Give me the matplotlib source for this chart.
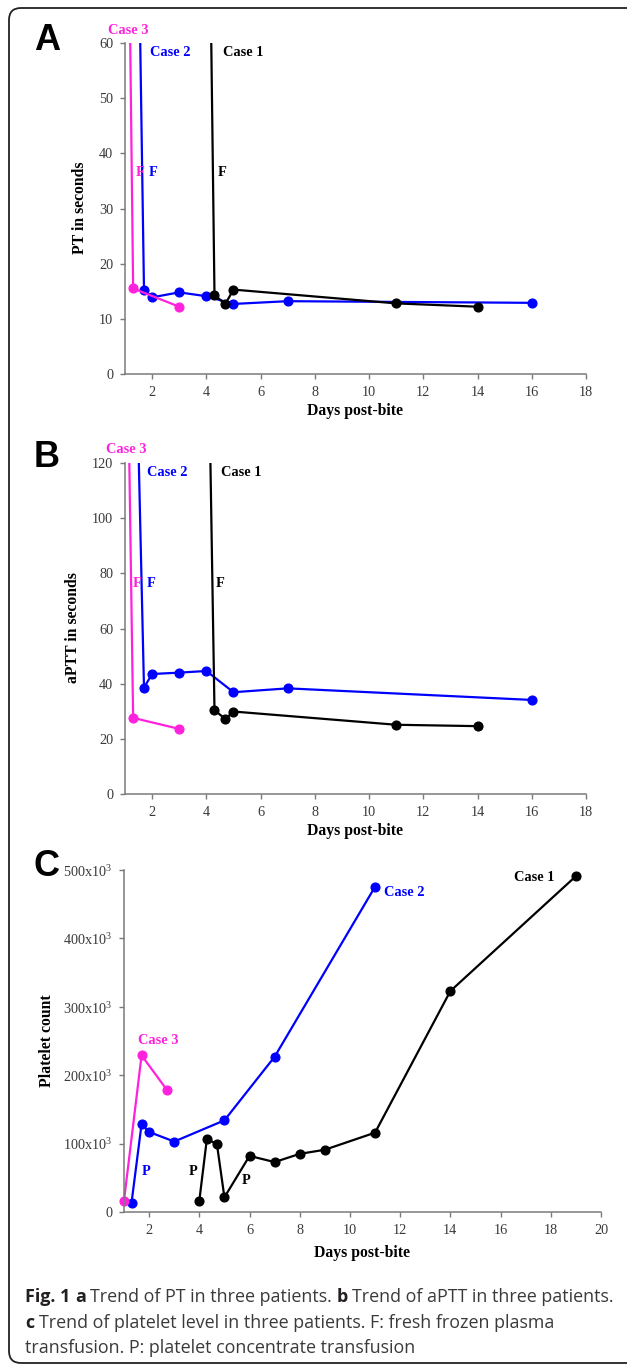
import numpy as np
import matplotlib
matplotlib.use("Agg")
import matplotlib.pyplot as plt
from matplotlib.patches import FancyBboxPatch
from matplotlib.transforms import IdentityTransform

plt.rcParams['font.family'] = 'Liberation Serif'
plt.rcParams['mathtext.fontset'] = 'custom'
plt.rcParams['mathtext.rm'] = 'Liberation Serif'

MAGENTA = '#ff22dd'
BLUE = '#0000ff'
BLACK = '#000000'
GRAY = '#7a7a7a'
W, H = 627, 1366

# A: PT in seconds (first point is off-scale, unclottable)
pt_case1_days = [4.0, 4.3, 4.7, 5.0, 11, 14]
pt_case1 = [130, 14.3, 12.7, 15.3, 12.8, 12.2]
pt_case2_days = [1.3, 1.7, 2, 3, 4, 5, 7, 16]
pt_case2 = [145, 15.3, 13.9, 14.8, 14.1, 12.7, 13.2, 12.9]
pt_case3_days = [1.0, 1.3, 3.0]
pt_case3 = [140, 15.5, 12.2]

# B: aPTT in seconds
aptt_case1_days = [4.0, 4.3, 4.7, 5.0, 11, 14]
aptt_case1 = [210, 30.4, 27.2, 29.9, 25.1, 24.6]
aptt_case2_days = [1.3, 1.7, 2, 3, 4, 5, 7, 16]
aptt_case2 = [210, 38.6, 43.5, 44.0, 44.6, 36.9, 38.3, 34.1]
aptt_case3_days = [1.0, 1.3, 3.0]
aptt_case3 = [225, 27.6, 23.6]

# C: platelet count
plt_case1_days = [4, 4.3, 4.7, 5, 6, 7, 8, 9, 11, 14, 19]
plt_case1 = [16500, 106500, 99500, 21500, 82000, 73000, 85000, 91000, 116000, 323000, 491000]
plt_case2_days = [1.3, 1.7, 2, 3, 5, 7, 11]
plt_case2 = [13500, 128500, 117000, 103000, 134000, 227000, 475500]
plt_case3_days = [1.0, 1.7, 2.7]
plt_case3 = [16500, 229000, 179000]

plt_ticks = [0, 100000, 200000, 300000, 400000, 500000]
plt_ticklabels = ['0'] + ['%dx10$^{\\mathrm{3}}$' % (v // 1000) for v in plt_ticks[1:]]


def px_axes(fig, left, top, right, bottom):
    return fig.add_axes([left / W, 1 - bottom / H, (right - left) / W, (bottom - top) / H])


def style_axes(ax):
    for s in ['top', 'right']:
        ax.spines[s].set_visible(False)
    for s in ['left', 'bottom']:
        ax.spines[s].set_color(GRAY)
        ax.spines[s].set_linewidth(1.1)
    ax.tick_params(direction='out', length=3.5, width=1, color=GRAY,
                   labelsize=10.3, labelcolor='#3a3a3a', pad=5)


def series(ax, x, y, color, clip=True):
    ax.plot(x, y, '-', color=color, lw=1.6, marker='o', ms=6.3,
            markevery=list(range(1, len(x))) if clip else None, clip_on=clip)


fig = plt.figure(figsize=(W / 100, H / 100), dpi=100)

# border frame
frame = FancyBboxPatch((0.09, 0.03), 7.0, 13.55, boxstyle='round,pad=0,rounding_size=0.12',
                       transform=fig.dpi_scale_trans, fill=False, ec='#222222', lw=1.3)
fig.patches.append(frame)

case_font = dict(fontsize=10.4, fontweight='bold', clip_on=False)

# ---- panel A
ax = px_axes(fig, 125, 43, 586, 374)
series(ax, pt_case2_days, pt_case2, BLUE)
series(ax, pt_case1_days, pt_case1, BLACK)
series(ax, pt_case3_days, pt_case3, MAGENTA)
ax.set_xlim(1, 18)
ax.set_ylim(0, 60)
ax.set_xticks(np.arange(2, 19, 2))
ax.set_yticks(np.arange(0, 61, 10))
style_axes(ax)
ax.text(1.11, 62.2, 'Case 3', color=MAGENTA, ha='center', va='center', **case_font)
ax.text(2.66, 58.2, 'Case 2', color=BLUE, ha='center', va='center', **case_font)
ax.text(5.35, 58.2, 'Case 1', color=BLACK, ha='center', va='center', **case_font)
ax.text(1.55, 36.5, 'F', color=MAGENTA, ha='center', va='center', **case_font)
ax.text(2.04, 36.5, 'F', color=BLUE, ha='center', va='center', **case_font)
ax.text(4.6, 36.5, 'F', color=BLACK, ha='center', va='center', **case_font)

# ---- panel B
ax = px_axes(fig, 125, 463, 586, 794)
series(ax, aptt_case2_days, aptt_case2, BLUE)
series(ax, aptt_case1_days, aptt_case1, BLACK)
series(ax, aptt_case3_days, aptt_case3, MAGENTA)
ax.set_xlim(1, 18)
ax.set_ylim(0, 120)
ax.set_xticks(np.arange(2, 19, 2))
ax.set_yticks(np.arange(0, 121, 20))
style_axes(ax)
ax.text(1.05, 124.9, 'Case 3', color=MAGENTA, ha='center', va='center', **case_font)
ax.text(2.56, 116.5, 'Case 2', color=BLUE, ha='center', va='center', **case_font)
ax.text(5.29, 116.5, 'Case 1', color=BLACK, ha='center', va='center', **case_font)
ax.text(1.43, 76.4, 'F', color=MAGENTA, ha='center', va='center', **case_font)
ax.text(1.96, 76.4, 'F', color=BLUE, ha='center', va='center', **case_font)
ax.text(4.52, 76.4, 'F', color=BLACK, ha='center', va='center', **case_font)

# ---- panel C
ax = px_axes(fig, 124, 870, 601, 1212)
series(ax, plt_case2_days, plt_case2, BLUE, clip=False)
series(ax, plt_case1_days, plt_case1, BLACK, clip=False)
series(ax, plt_case3_days, plt_case3, MAGENTA, clip=False)
ax.set_xlim(1, 20)
ax.set_ylim(0, 500000)
ax.set_xticks(np.arange(2, 21, 2))
ax.set_yticks(plt_ticks)
ax.set_yticklabels(plt_ticklabels)
style_axes(ax)
ax.text(2.36, 250000, 'Case 3', color=MAGENTA, ha='center', va='center', **case_font)
ax.text(12.15, 467000, 'Case 2', color=BLUE, ha='center', va='center', **case_font)
ax.text(17.35, 489000, 'Case 1', color=BLACK, ha='center', va='center', **case_font)
ax.text(1.89, 59000, 'P', color=BLUE, ha='center', va='center', **case_font)
ax.text(3.75, 59000, 'P', color=BLACK, ha='center', va='center', **case_font)
ax.text(5.87, 46000, 'P', color=BLACK, ha='center', va='center', **case_font)

# axis titles, placed in pixels
lab = dict(fontsize=11.3, fontweight='bold', ha='center', va='center')
fig.text(80 / W, 1 - 208 / H, 'PT in seconds', rotation=90, **lab)
fig.text(73 / W, 1 - 628 / H, 'aPTT in seconds', rotation=90, **lab)
fig.text(47 / W, 1 - 1041 / H, 'Platelet count', rotation=90, **lab)
fig.text(355 / W, 1 - 411 / H, 'Days post-bite', **lab)
fig.text(355 / W, 1 - 831 / H, 'Days post-bite', **lab)
fig.text(362 / W, 1 - 1253 / H, 'Days post-bite', **lab)

# panel letters
for letter, yy in [('A', 40), ('B', 457), ('C', 866)]:
    fig.text(47 / W, 1 - yy / H, letter, family='Liberation Sans', fontsize=26,
             fontweight='bold', ha='center', va='center')

# caption with mixed bold / regular runs
renderer = fig.canvas.get_renderer()


def caption_line(x, y, parts):
    for txt, bold in parts:
        t = fig.text(x, H - y, txt, transform=IdentityTransform(), family='Open Sans',
                     fontsize=12.9, fontweight='bold' if bold else 'normal',
                     color='#231f20' if bold else '#3a3a3a', va='center', ha='left')
        x += t.get_window_extent(renderer).width + 4.5


caption_line(25, 1297, [('Fig. 1', True), ('a', True), ('Trend of PT in three patients.', False),
                        ('b', True), ('Trend of aPTT in three patients.', False)])
caption_line(25, 1323, [('c', True), ('Trend of platelet level in three patients. F: fresh frozen plasma', False)])
caption_line(25, 1348, [('transfusion. P: platelet concentrate transfusion', False)])

fig.savefig('out.png', dpi=100)
